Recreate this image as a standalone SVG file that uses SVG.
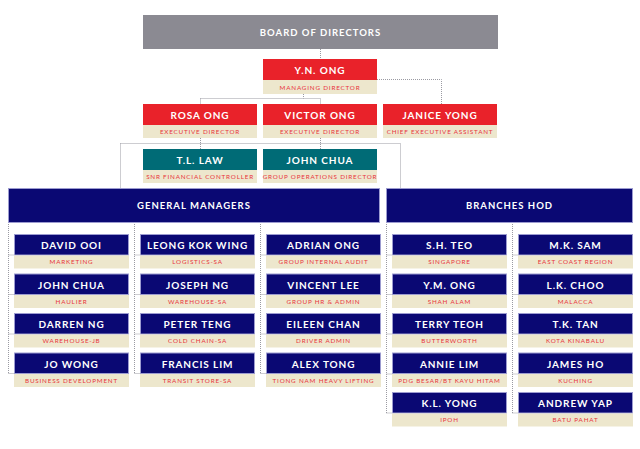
<svg xmlns="http://www.w3.org/2000/svg" width="640" height="449" viewBox="0 0 640 449">
<style>
.bg{fill:#ffffff}
.gray{fill:#8b8a92}
.red{fill:#e9222a}
.teal{fill:#006b76}
.navy{fill:#0a0873;stroke:#9c9bd0;stroke-width:1}
.beige{fill:#ede7cd}
.nm{font-family:Lato,"Open Sans",sans-serif;font-weight:700;font-size:10px;letter-spacing:0.9px;fill:#ffffff;text-anchor:middle}
.hd{font-family:Lato,"Open Sans",sans-serif;font-weight:700;font-size:9.5px;letter-spacing:1px;fill:#ffffff;text-anchor:middle}
.sb{font-family:Lato,"Open Sans",sans-serif;font-weight:400;font-size:6.3px;letter-spacing:0.8px;fill:#e8343c;text-anchor:middle}
.dot{fill:none;stroke:#9a9aa2;stroke-width:1;stroke-dasharray:1 1}
</style>
<rect class="bg" x="0" y="0" width="640" height="449"/>

<g id="connectors">
<path class="dot" d="M320.5 49 V59"/>
<path class="dot" d="M377 79.5 H441.5 V104"/>
<path class="dot" d="M303.5 94 V98.5 M200.5 98.5 H320.5 M200.5 98.5 V104 M320.5 98.5 V104"/>
<path class="dot" d="M200.5 138 V149 M320.5 138 V149 M120.5 143.5 H400.5 M120.5 143.5 V189 M400.5 143.5 V189"/>
<path class="dot" d="M8.5 222 V373.5 M8.5 255 H14 M8.5 294.5 H14 M8.5 334 H14 M8.5 373.5 H14"/>
<path class="dot" d="M134.5 222 V373.5 M134.5 255 H140 M134.5 294.5 H140 M134.5 334 H140 M134.5 373.5 H140"/>
<path class="dot" d="M260.5 222 V373.5 M260.5 255 H266 M260.5 294.5 H266 M260.5 334 H266 M260.5 373.5 H266"/>
<path class="dot" d="M386.5 222 V413 M386.5 255 H392 M386.5 294.5 H392 M386.5 334 H392 M386.5 374 H392 M386.5 413 H392"/>
<path class="dot" d="M512.5 222 V413 M512.5 255 H518 M512.5 294.5 H518 M512.5 334 H518 M512.5 374 H518 M512.5 413 H518"/>
</g>

<g id="board">
<rect class="gray" x="143" y="15" width="355" height="34"/>
<text class="hd" x="320.5" y="35.5">BOARD OF DIRECTORS</text>
</g>

<g id="yn-ong">
<rect class="red" x="263" y="59" width="114" height="21"/>
<rect class="beige" x="263" y="80" width="114" height="14"/>
<text class="nm" x="320" y="73.5">Y.N. ONG</text>
<text class="sb" x="320" y="89.5">MANAGING DIRECTOR</text>
</g>

<g id="rosa-ong">
<rect class="red" x="143" y="104" width="114" height="21"/>
<rect class="beige" x="143" y="125" width="114" height="13"/>
<text class="nm" x="200" y="118.5">ROSA ONG</text>
<text class="sb" x="200" y="134">EXECUTIVE DIRECTOR</text>
</g>
<g id="victor-ong">
<rect class="red" x="263" y="104" width="114" height="21"/>
<rect class="beige" x="263" y="125" width="114" height="13"/>
<text class="nm" x="320" y="118.5">VICTOR ONG</text>
<text class="sb" x="320" y="134">EXECUTIVE DIRECTOR</text>
</g>
<g id="janice-yong">
<rect class="red" x="383" y="104" width="114" height="21"/>
<rect class="beige" x="383" y="125" width="114" height="13"/>
<text class="nm" x="440" y="118.5">JANICE YONG</text>
<text class="sb" x="440" y="134">CHIEF EXECUTIVE ASSISTANT</text>
</g>

<g id="tl-law">
<rect class="teal" x="143" y="149" width="114" height="21"/>
<rect class="beige" x="143" y="170" width="114" height="13"/>
<text class="nm" x="200" y="163.5">T.L. LAW</text>
<text class="sb" x="200" y="179">SNR FINANCIAL CONTROLLER</text>
</g>
<g id="john-chua-god">
<rect class="teal" x="263" y="149" width="114" height="21"/>
<rect class="beige" x="263" y="170" width="114" height="13"/>
<text class="nm" x="320" y="163.5">JOHN CHUA</text>
<text class="sb" x="320" y="179">GROUP OPERATIONS DIRECTOR</text>
</g>

<g id="general-managers">
<rect class="navy" x="8.5" y="188.5" width="371" height="34"/>
<text class="hd" x="194" y="209">GENERAL MANAGERS</text>
</g>
<g id="branches-hod">
<rect class="navy" x="386.5" y="188.5" width="246" height="34"/>
<text class="hd" x="509.5" y="209">BRANCHES HOD</text>
</g>

<!-- GM column 1 -->
<g id="david-ooi">
<rect class="navy" x="14.5" y="234.5" width="114" height="20.5"/>
<rect class="beige" x="14" y="255.5" width="115" height="13"/>
<text class="nm" x="71.5" y="249">DAVID OOI</text>
<text class="sb" x="71.5" y="264">MARKETING</text>
</g>
<g id="john-chua">
<rect class="navy" x="14.5" y="274" width="114" height="20.5"/>
<rect class="beige" x="14" y="295" width="115" height="13"/>
<text class="nm" x="71.5" y="288.5">JOHN CHUA</text>
<text class="sb" x="71.5" y="303.5">HAULIER</text>
</g>
<g id="darren-ng">
<rect class="navy" x="14.5" y="313.5" width="114" height="20.5"/>
<rect class="beige" x="14" y="334.5" width="115" height="13"/>
<text class="nm" x="71.5" y="328">DARREN NG</text>
<text class="sb" x="71.5" y="343">WAREHOUSE-JB</text>
</g>
<g id="jo-wong">
<rect class="navy" x="14.5" y="353" width="114" height="20.5"/>
<rect class="beige" x="14" y="374" width="115" height="13"/>
<text class="nm" x="71.5" y="367.5">JO WONG</text>
<text class="sb" x="71.5" y="382.5">BUSINESS DEVELOPMENT</text>
</g>

<!-- GM column 2 -->
<g id="leong-kok-wing">
<rect class="navy" x="140.5" y="234.5" width="114" height="20.5"/>
<rect class="beige" x="140" y="255.5" width="115" height="13"/>
<text class="nm" x="197.5" y="249">LEONG KOK WING</text>
<text class="sb" x="197.5" y="264">LOGISTICS-SA</text>
</g>
<g id="joseph-ng">
<rect class="navy" x="140.5" y="274" width="114" height="20.5"/>
<rect class="beige" x="140" y="295" width="115" height="13"/>
<text class="nm" x="197.5" y="288.5">JOSEPH NG</text>
<text class="sb" x="197.5" y="303.5">WAREHOUSE-SA</text>
</g>
<g id="peter-teng">
<rect class="navy" x="140.5" y="313.5" width="114" height="20.5"/>
<rect class="beige" x="140" y="334.5" width="115" height="13"/>
<text class="nm" x="197.5" y="328">PETER TENG</text>
<text class="sb" x="197.5" y="343">COLD CHAIN-SA</text>
</g>
<g id="francis-lim">
<rect class="navy" x="140.5" y="353" width="114" height="20.5"/>
<rect class="beige" x="140" y="374" width="115" height="13"/>
<text class="nm" x="197.5" y="367.5">FRANCIS LIM</text>
<text class="sb" x="197.5" y="382.5">TRANSIT STORE-SA</text>
</g>

<!-- GM column 3 -->
<g id="adrian-ong">
<rect class="navy" x="266.5" y="234.5" width="114" height="20.5"/>
<rect class="beige" x="266" y="255.5" width="115" height="13"/>
<text class="nm" x="323.5" y="249">ADRIAN ONG</text>
<text class="sb" x="323.5" y="264">GROUP INTERNAL AUDIT</text>
</g>
<g id="vincent-lee">
<rect class="navy" x="266.5" y="274" width="114" height="20.5"/>
<rect class="beige" x="266" y="295" width="115" height="13"/>
<text class="nm" x="323.5" y="288.5">VINCENT LEE</text>
<text class="sb" x="323.5" y="303.5">GROUP HR &amp; ADMIN</text>
</g>
<g id="eileen-chan">
<rect class="navy" x="266.5" y="313.5" width="114" height="20.5"/>
<rect class="beige" x="266" y="334.5" width="115" height="13"/>
<text class="nm" x="323.5" y="328">EILEEN CHAN</text>
<text class="sb" x="323.5" y="343">DRIVER ADMIN</text>
</g>
<g id="alex-tong">
<rect class="navy" x="266.5" y="353" width="114" height="20.5"/>
<rect class="beige" x="266" y="374" width="115" height="13"/>
<text class="nm" x="323.5" y="367.5">ALEX TONG</text>
<text class="sb" x="323.5" y="382.5">TIONG NAM HEAVY LIFTING</text>
</g>

<!-- Branches column 1 -->
<g id="sh-teo">
<rect class="navy" x="392.5" y="234.5" width="114" height="20.5"/>
<rect class="beige" x="392" y="255.5" width="115" height="13"/>
<text class="nm" x="449.5" y="249">S.H. TEO</text>
<text class="sb" x="449.5" y="264">SINGAPORE</text>
</g>
<g id="ym-ong">
<rect class="navy" x="392.5" y="274" width="114" height="20.5"/>
<rect class="beige" x="392" y="295" width="115" height="13"/>
<text class="nm" x="449.5" y="288.5">Y.M. ONG</text>
<text class="sb" x="449.5" y="303.5">SHAH ALAM</text>
</g>
<g id="terry-teoh">
<rect class="navy" x="392.5" y="313.5" width="114" height="20.5"/>
<rect class="beige" x="392" y="334.5" width="115" height="13"/>
<text class="nm" x="449.5" y="328">TERRY TEOH</text>
<text class="sb" x="449.5" y="343">BUTTERWORTH</text>
</g>
<g id="annie-lim">
<rect class="navy" x="392.5" y="353" width="114" height="20.5"/>
<rect class="beige" x="392" y="374" width="115" height="13"/>
<text class="nm" x="449.5" y="367.5">ANNIE LIM</text>
<text class="sb" x="449.5" y="382.5">PDG BESAR/BT KAYU HITAM</text>
</g>
<g id="kl-yong">
<rect class="navy" x="392.5" y="392.5" width="114" height="20.5"/>
<rect class="beige" x="392" y="413.5" width="115" height="13"/>
<text class="nm" x="449.5" y="407">K.L. YONG</text>
<text class="sb" x="449.5" y="422">IPOH</text>
</g>

<!-- Branches column 2 -->
<g id="mk-sam">
<rect class="navy" x="518.5" y="234.5" width="114" height="20.5"/>
<rect class="beige" x="518" y="255.5" width="115" height="13"/>
<text class="nm" x="575.5" y="249">M.K. SAM</text>
<text class="sb" x="575.5" y="264">EAST COAST REGION</text>
</g>
<g id="lk-choo">
<rect class="navy" x="518.5" y="274" width="114" height="20.5"/>
<rect class="beige" x="518" y="295" width="115" height="13"/>
<text class="nm" x="575.5" y="288.5">L.K. CHOO</text>
<text class="sb" x="575.5" y="303.5">MALACCA</text>
</g>
<g id="tk-tan">
<rect class="navy" x="518.5" y="313.5" width="114" height="20.5"/>
<rect class="beige" x="518" y="334.5" width="115" height="13"/>
<text class="nm" x="575.5" y="328">T.K. TAN</text>
<text class="sb" x="575.5" y="343">KOTA KINABALU</text>
</g>
<g id="james-ho">
<rect class="navy" x="518.5" y="353" width="114" height="20.5"/>
<rect class="beige" x="518" y="374" width="115" height="13"/>
<text class="nm" x="575.5" y="367.5">JAMES HO</text>
<text class="sb" x="575.5" y="382.5">KUCHING</text>
</g>
<g id="andrew-yap">
<rect class="navy" x="518.5" y="392.5" width="114" height="20.5"/>
<rect class="beige" x="518" y="413.5" width="115" height="13"/>
<text class="nm" x="575.5" y="407">ANDREW YAP</text>
<text class="sb" x="575.5" y="422">BATU PAHAT</text>
</g>
</svg>
